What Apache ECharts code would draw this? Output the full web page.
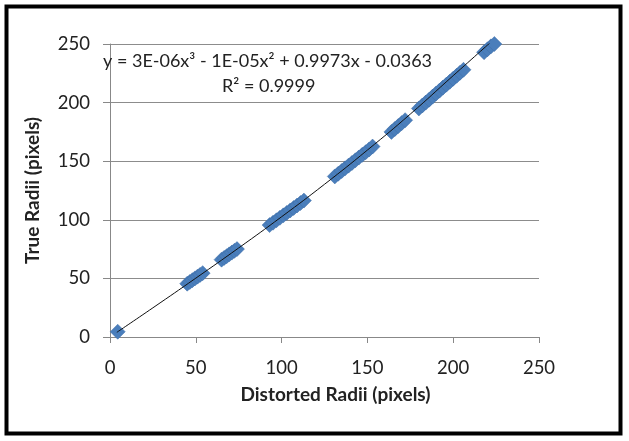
<!DOCTYPE html>
<html>
<head>
<meta charset="utf-8">
<script src="https://cdn.jsdelivr.net/npm/echarts@6/dist/echarts.min.js"></script>
<style>
  html, body { margin: 0; padding: 0; background: #fff; }
  #chart { width: 629px; height: 441px; }
</style>
</head>
<body>
<div id="chart"></div>
<script>
var distorted = [
  4.5,
  45, 46.5, 48, 49.5, 51, 52.5, 54,
  65, 66.5, 68, 69.5, 71, 72.5, 74,
  93, 95, 97, 99, 101, 103, 105, 107, 109, 111, 113,
  131, 133, 135, 137, 139, 141, 143, 145, 147, 149, 151, 153,
  164, 166, 168, 170, 172,
  180, 182, 184, 186, 188, 190, 192, 194, 196, 198, 200, 202, 204, 206,
  218, 220, 222, 224
]
var trueRadii = [
  4.5,
  45.5, 47, 48.5, 50, 51.5, 53, 54.5,
  66, 67.5, 69, 70.5, 72, 73.5, 75,
  95.5, 97.5, 99.6, 101.7, 103.8, 105.9, 108, 110.1, 112.2, 114.3, 116.4,
  137, 139.3, 141.6, 143.9, 146.2, 148.5, 150.8, 153.1, 155.4, 157.7, 160, 162.5,
  175, 177.5, 180, 182.5, 185,
  195, 197.5, 200, 202.5, 205.1, 207.7, 210.2, 212.8, 215.3, 217.8, 220.4, 222.9, 225.5, 228,
  243, 245.5, 248, 250
]

// polynomial trendline
var trendX = [4, 25, 50, 75, 100, 125, 150, 175, 200, 223]
var trendY = [4, 24.9, 50.2, 76, 102.6, 130.3, 159.5, 190.2, 223, 253]

var xTicks = [0, 50, 100, 150, 200, 250]
var yTicks = [0, 50, 100, 150, 200, 250]

var chart = echarts.init(document.getElementById('chart'))

var points = distorted.map(function (x, i) { return [x, trueRadii[i]] })
var trend = trendX.map(function (x, i) { return [x, trendY[i]] })

var font = 'Lato, "Open Sans", sans-serif'

var option = {
  animation: false,
  backgroundColor: '#fff',
  grid: { left: 110, right: 90, top: 44, bottom: 104 },
  xAxis: {
    type: 'value',
    min: xTicks[0],
    max: xTicks[xTicks.length - 1],
    interval: 50,
    name: 'Distorted Radii (pixels)',
    nameLocation: 'middle',
    nameGap: 48,
    nameTextStyle: { fontFamily: font, fontSize: 19, fontWeight: 'bold', color: '#222', padding: [0, 0, 0, 22] },
    axisLine: { lineStyle: { color: '#888', width: 1 } },
    axisTick: { show: true, length: 6, lineStyle: { color: '#888' } },
    axisLabel: { margin: 22, fontFamily: font, fontSize: 18.5, color: '#222' },
    splitLine: { show: false }
  },
  yAxis: {
    type: 'value',
    min: yTicks[0],
    max: yTicks[yTicks.length - 1],
    interval: 50,
    name: 'True Radii (pixels)',
    nameLocation: 'middle',
    nameGap: 68,
    nameTextStyle: { fontFamily: font, fontSize: 19, fontWeight: 'bold', color: '#222' },
    axisLine: { show: true, lineStyle: { color: '#888', width: 1 } },
    axisTick: { show: true, length: 7, lineStyle: { color: '#888' } },
    axisLabel: { margin: 20, fontFamily: font, fontSize: 18.5, color: '#222' },
    splitLine: { show: true, lineStyle: { color: '#8c8c8c', width: 1 } }
  },
  series: [
    {
      type: 'scatter',
      data: points,
      symbol: 'diamond',
      symbolSize: 15,
      itemStyle: { color: '#4a7ebb', borderColor: '#3f6fa8', borderWidth: 0.5, opacity: 1 },
      z: 2
    },
    {
      type: 'line',
      data: trend,
      smooth: true,
      showSymbol: false,
      lineStyle: { color: '#111', width: 1 },
      z: 3
    }
  ],
  graphic: [
    {
      type: 'rect',
      shape: { x: 6.5, y: 6.5, width: 614, height: 427 },
      style: { fill: 'none', stroke: '#000', lineWidth: 4 }
    },
    {
      type: 'text',
      left: 103,
      top: 52,
      style: {
        text: 'y = 3E-06x³ - 1E-05x² + 0.9973x - 0.0363',
        font: '18px ' + font,
        fill: '#222'
      },
      z: 10
    },
    {
      type: 'text',
      left: 222,
      top: 77,
      style: {
        text: 'R² = 0.9999',
        font: '18px ' + font,
        fill: '#222'
      },
      z: 10
    }
  ]
}

chart.setOption(option)
</script>
</body>
</html>
